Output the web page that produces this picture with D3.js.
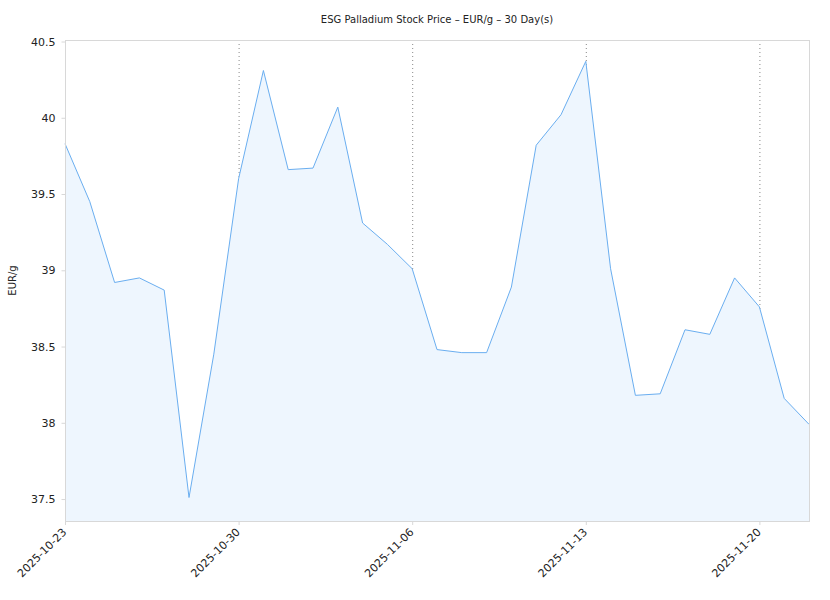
<!DOCTYPE html>
<meta charset="utf-8">
<style>
body { margin: 0; background: #fff; }
text { font-family: "DejaVu Sans", sans-serif; fill: #222; }
</style>
<svg width="830" height="600"></svg>
<script src="https://cdn.jsdelivr.net/npm/d3@7/dist/d3.min.js"></script>
<script>
var startDate = "2025-10-23";
var prices = [39.83, 39.45, 38.92, 38.95, 38.87, 37.51, 38.45, 39.60, 40.31, 39.66,
              39.67, 40.07, 39.31, 39.17, 39.01, 38.48, 38.46, 38.46, 38.89, 39.82,
              40.02, 40.37, 39.01, 38.18, 38.19, 38.61, 38.58, 38.95, 38.76, 38.16, 37.99];
var yTicks = [37.5, 38, 38.5, 39, 39.5, 40, 40.5];
var xTickLabels = ["2025-10-23", "2025-10-30", "2025-11-06", "2025-11-13", "2025-11-20"];
var yDomain = [37.356, 40.51];

var parse = d3.utcParse("%Y-%m-%d");
var t0 = parse(startDate);
var data = prices.map((v, i) => ({ date: d3.utcDay.offset(t0, i), value: v }));

var svg = d3.select("svg"),
    margin = { top: 40, right: 21, bottom: 79, left: 65 },
    width = 830 - margin.left - margin.right,
    height = 600 - margin.top - margin.bottom;

var x = d3.scaleUtc()
    .domain(d3.extent(data, d => d.date))
    .range([0, width]);
var y = d3.scaleLinear().domain(yDomain).range([height, 0]);

var g = svg.append("g").attr("transform", "translate(" + margin.left + "," + margin.top + ")");

var xTicks = xTickLabels.map(parse);

// dotted vertical grid
g.append("g").selectAll("line")
    .data(xTicks.slice(1))
    .enter().append("line")
    .attr("x1", d => x(d) + 0.5).attr("x2", d => x(d) + 0.5)
    .attr("y1", 0).attr("y2", height)
    .attr("stroke", "#888").attr("stroke-width", 1)
    .attr("stroke-dasharray", "1,3");

var area = d3.area()
    .x(d => x(d.date))
    .y0(height)
    .y1(d => y(d.value));
var line = d3.line()
    .x(d => x(d.date))
    .y(d => y(d.value));

g.append("path").datum(data)
    .attr("d", area)
    .attr("fill", "#eef6fe");
g.append("path").datum(data)
    .attr("d", line)
    .attr("fill", "none")
    .attr("stroke", "#6aaef0")
    .attr("stroke-width", 1);

// frame
g.append("rect")
    .attr("x", 0.5).attr("y", 0.5)
    .attr("width", width).attr("height", height)
    .attr("fill", "none").attr("stroke", "#d8d8d8");

var yAxis = g.append("g")
    .attr("transform", "translate(0.5,0)")
    .call(d3.axisLeft(y).tickValues(yTicks).tickSize(4).tickPadding(6).tickFormat(d3.format("")));
yAxis.select(".domain").remove();
yAxis.selectAll("line").attr("stroke", "#d8d8d8");
yAxis.selectAll("text").style("font-size", "11px").attr("fill", "#222");

var xAxis = g.append("g")
    .attr("transform", "translate(0," + height + ")")
    .call(d3.axisBottom(x).tickValues(xTicks).tickSize(4).tickFormat(d3.utcFormat("%Y-%m-%d")));
xAxis.select(".domain").remove();
xAxis.selectAll("line").attr("stroke", "#d8d8d8");
xAxis.selectAll("text")
    .style("font-size", "11px")
    .attr("fill", "#222")
    .attr("text-anchor", "end")
    .attr("x", 0).attr("y", 0)
    .attr("dx", 0)
    .attr("dy", "0.35em")
    .attr("transform", "translate(-1,9) rotate(-45)");

svg.append("text")
    .attr("x", margin.left + width / 2).attr("y", 23)
    .attr("text-anchor", "middle")
    .style("font-size", "10px")
    .text("ESG Palladium Stock Price \u2013 EUR/g \u2013 30 Day(s)");

svg.append("text")
    .attr("transform", "translate(16," + (margin.top + height / 2) + ") rotate(-90)")
    .attr("text-anchor", "middle")
    .style("font-size", "10px")
    .text("EUR/g");
</script>
